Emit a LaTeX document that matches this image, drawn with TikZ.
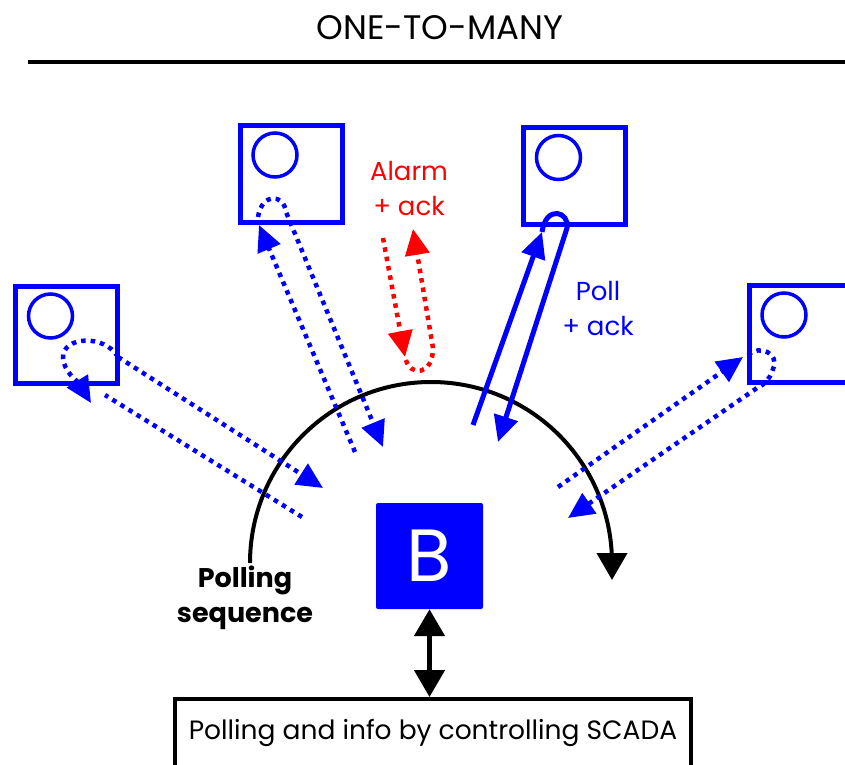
\documentclass[tikz,border=0pt]{standalone}
\usepackage{fontspec}
\setmainfont{Poppins}
\usetikzlibrary{arrows.meta,calc}
\definecolor{devblue}{RGB}{0,0,255}
\definecolor{alarmred}{RGB}{255,0,0}
\tikzset{
  device/.style={
    % The shape:
    shape=rectangle,
    % The size:
    minimum width=102pt,minimum height=97pt,
    % The border:
    line width=5pt,draw=devblue}}
\tikzset{
  lamp/.style={
    % The shape:
    circle,minimum size=44pt,inner sep=0pt,
    % The border:
    line width=3.5pt,draw=devblue}}
\tikzset{
  hub/.style={
    rectangle,minimum width=107pt,minimum height=106pt,rounded corners=2pt,
    fill=devblue,text=white,font=\fontsize{74}{80}\selectfont},
  panel/.style={
    rectangle,minimum width=516pt,minimum height=68pt,
    line width=4pt,draw=black,font=\fontsize{26.5}{30}\selectfont},
  % The links:
  tip/.style={-{Triangle[length=26pt,width=24pt]}},
  dotlink/.style={line width=4.5pt,dash pattern=on 4.5pt off 5pt,draw=devblue},
  alarmlink/.style={line width=4.5pt,dash pattern=on 4.5pt off 5pt,draw=alarmred},
  polllink/.style={line width=5pt,draw=devblue},
  label/.style={align=center,font=\fontsize{26}{35}\selectfont}}

\begin{document}
\begin{tikzpicture}[x=1pt,y=1pt]
	\useasboundingbox (0,0) rectangle (845,764);
	% Heading
	\node[anchor=base,font=\fontsize{34}{40}\selectfont] (title) at (440,724) {ONE-TO-MANY};
	\draw[line width=4pt] (28,702) -- (845,702);
	% Outstations
	\node[device] (d1) at (66.5,429) {};
	\node[device] (d2) at (291,590) {};
	\node[device] (d3) at (574.5,587.5) {};
	\node[device] (d4) at (800,430) {};
	\foreach \d in {d1,d2,d3,d4}
		\node[lamp] (\d lamp) at ($(\d.north west)+(37.5,-32)$) {};
	% Master station and SCADA
	\node[hub] (master) at (429.5,208) {B};
	\node[panel] (scada) at (433,31) {Polling and info by controlling SCADA};
	\draw[line width=5pt,{Triangle[length=27pt,width=30pt]}-{Triangle[length=27pt,width=30pt]}]
		(master.south) -- (master.south |- scada.north);
	% Polling sequence
	\coordinate (seqstart) at (250,201);
	\draw[line width=4pt,-{Triangle[length=27pt,width=30pt]}]
		(seqstart) arc[start angle=180,end angle=0,radius=181] -- ++(0,-17);
	\node[label,font=\bfseries\fontsize{27}{35}\selectfont] (seq) at (245,166) {Polling\\sequence};
	% Links to d1
	\coordinate (d1in) at (105,369);
	\coordinate (d1out) at (302,247);
	\coordinate (d1loop) at (118,407);
	\coordinate (d1back) at (323,276);
	\coordinate (d1turn) at (91,361);
	\draw[dotlink] (d1out) -- (d1in);
	\draw[dotlink,tip] (d1loop) .. controls (105,430) and (62,428) .. (63,406)
		.. controls (64,392) and (78,382) .. (d1turn);
	\draw[dotlink,tip] (d1loop) -- (d1back);
	% Links to d2
	\coordinate (d2out) at (355,312);
	\coordinate (d2in) at (259,539);
	\coordinate (d2loop) at (258,547);
	\coordinate (d2back) at (383,317);
	\draw[dotlink,tip] (d2out) -- (d2in);
	\draw[dotlink,tip] (d2loop) .. controls (262,572) and (284,570) .. (286,552) -- (d2back);
	% Alarm from d3 side
	\coordinate (alout) at (383,526);
	\coordinate (alin) at (405,407);
	\coordinate (alloop) at (406,404);
	\coordinate (alback) at (413,535);
	\draw[alarmlink,tip] (alout) -- (alin);
	\draw[alarmlink,tip] (alloop) .. controls (410,388) and (433,388) .. (433,416) -- (alback);
	\node[label,text=alarmred] (alarm) at (409,576) {Alarm\\+ ack};
	% Links to d3
	\coordinate (d3out) at (473,339);
	\coordinate (d3in) at (542,532);
	\coordinate (d3back) at (498,322);
	\draw[polllink,tip] (d3out) -- (d3in);
	\draw[polllink,tip] (d3in) .. controls (546,560) and (570,552) .. (567,536) -- (d3back);
	\node[label,text=devblue] (poll) at (598,456) {Poll\\+ ack};
	% Links to d4
	\coordinate (d4out) at (558,277);
	\coordinate (d4in) at (743,407);
	\coordinate (d4loop) at (748,409);
	\coordinate (d4back) at (568,246);
	\draw[dotlink,tip] (d4out) -- (d4in);
	\draw[dotlink,tip] (d4loop) .. controls (760,420) and (780,410) .. (773,395)
		.. controls (770,384) and (762,378) .. (757,376) -- (d4back);
\end{tikzpicture}
\end{document}
